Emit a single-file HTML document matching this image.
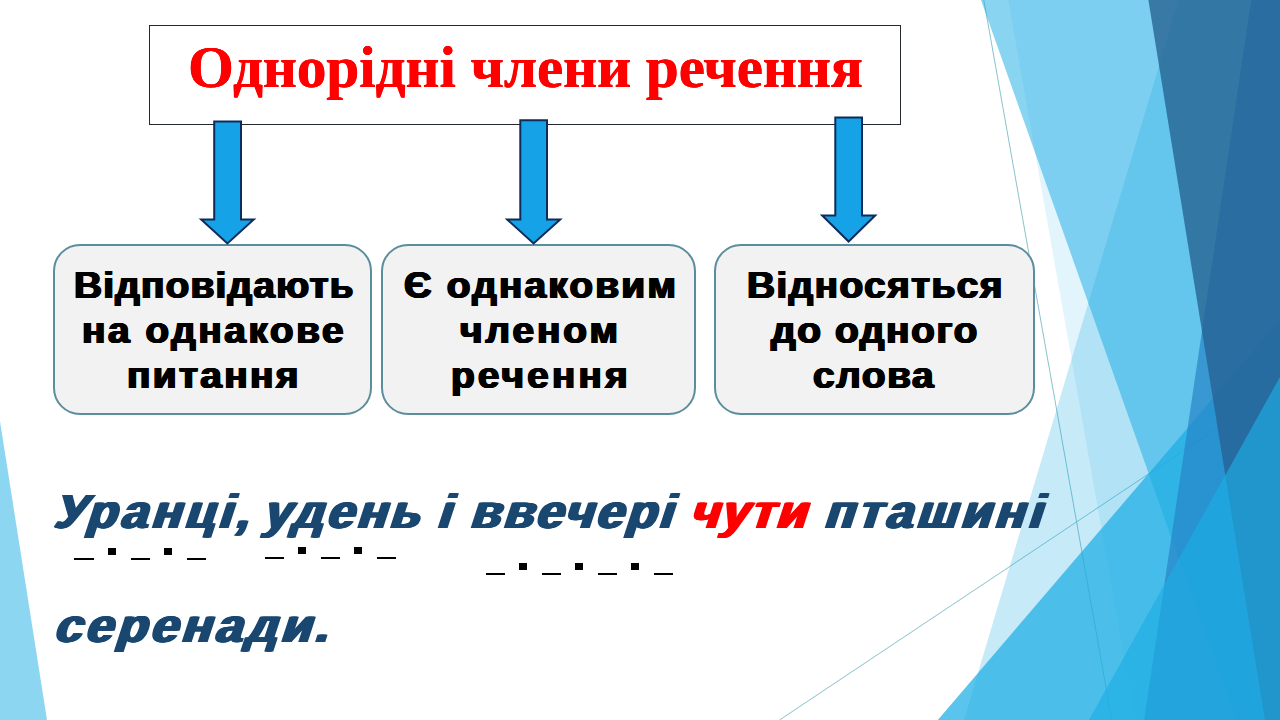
<!DOCTYPE html>
<html><head><meta charset="utf-8">
<style>
html,body{margin:0;padding:0;}
body{width:1280px;height:720px;overflow:hidden;position:relative;background:#fff;font-family:"Liberation Sans",sans-serif;}
svg.bg{position:absolute;left:0;top:0;}
.title{position:absolute;left:149px;top:25px;width:752px;height:99.5px;border:1.3px solid #23292f;background:#fff;box-sizing:border-box;}
.ttext{position:absolute;white-space:nowrap;font-family:"Liberation Serif",serif;font-weight:bold;color:#f00;font-size:59px;line-height:normal;text-shadow:0.35px 0 0 #f00,-0.35px 0 0 #f00;}
.box{position:absolute;top:244.2px;height:170.6px;border:2px solid #5a8e9d;border-radius:27px;background:#f2f2f2;box-sizing:border-box;}
.bt{position:absolute;white-space:nowrap;font-weight:bold;color:#000;font-size:37.5px;line-height:normal;text-shadow:0.9px 0 0 #000,-0.9px 0 0 #000,0.45px 0 0 #000,-0.45px 0 0 #000;transform:scaleX(1.035);transform-origin:0 0;}
.sw{position:absolute;white-space:nowrap;font-weight:bold;transform:skewX(-18.0deg) scaleX(1.02);transform-origin:0 43.4px;color:#1a4770;text-shadow:1.6px 0 0 currentColor,-1.6px 0 0 currentColor,0.8px 0 0 currentColor,-0.8px 0 0 currentColor;font-size:48.0px;line-height:normal;}
.dd{position:absolute;background:#000;}
</style></head><body>
<svg class="bg" width="1280" height="720" viewBox="0 0 1280 720">
  <line x1="983.8" y1="0" x2="1111.8" y2="720" stroke="#6ab3c0" stroke-opacity="0.8" stroke-width="1"/>
  <line x1="1279.7" y1="386.5" x2="779.5" y2="720" stroke="#6ab3c0" stroke-opacity="0.8" stroke-width="1"/>
  <polygon points="1178.7,0 1280,0 1280,720 963.9,720" fill="#1CADE4" fill-opacity="0.25"/>
  <polygon points="1008.2,0 1280,0 1280,720 1135.2,720" fill="#1CADE4" fill-opacity="0.12"/>
  <polygon points="1280,320 1280,720 937.8,720" fill="#1CADE4" fill-opacity="0.72"/>
  <polygon points="981,0 1280,0 1280,720 1236,720" fill="#1CADE4" fill-opacity="0.52"/>
  <polygon points="1251.2,0 1280,0 1280,720 1144.2,720" fill="#2683C6" fill-opacity="0.7"/>
  <polygon points="1148.4,0 1280,0 1280,720 1264.9,720" fill="#276394" fill-opacity="0.8"/>
  <polygon points="1280,376.9 1280,720 1088.9,720" fill="#1CADE4" fill-opacity="0.64"/>
  <polygon points="0,421.3 0,720 47,720" fill="#1CADE4" fill-opacity="0.5"/>
</svg>
<div class="title"></div>
<div class="ttext" style="left:188px;top:33px;">Однорідні члени речення</div>
<div class="box" style="left:53px;width:319px;"></div>
<div class="box" style="left:381px;width:315px;"></div>
<div class="box" style="left:714px;width:321px;"></div>
<svg class="bg" width="1280" height="720" viewBox="0 0 1280 720">
  <g fill="#16a2e6" stroke="#0e2c5a" stroke-width="2" stroke-linejoin="miter">
    <polygon points="214.2,121.5 241,121.5 241,219.5 253.8,219.5 227.4,243.5 201.2,219.5 214.2,219.5"/>
    <polygon points="520.3,120.3 547,120.3 547,219.5 560.2,219.5 533.6,243.5 507.2,219.5 520.3,219.5"/>
    <polygon points="835.3,117.6 862,117.6 862,215.5 875.2,215.5 848.6,241.5 822.2,215.5 835.3,215.5"/>
  </g>
</svg>
<div class="bt" style="left:73.50px;top:264.00px;letter-spacing:1.14px;">Відповідають</div>
<div class="bt" style="left:81.75px;top:309.00px;letter-spacing:2.45px;">на однакове</div>
<div class="bt" style="left:126.75px;top:353.50px;letter-spacing:2.25px;">питання</div>
<div class="bt" style="left:403.50px;top:264.00px;letter-spacing:2.10px;">Є однаковим</div>
<div class="bt" style="left:460.25px;top:309.00px;letter-spacing:2.80px;">членом</div>
<div class="bt" style="left:450.50px;top:353.50px;letter-spacing:3.00px;">речення</div>
<div class="bt" style="left:746.75px;top:264.00px;letter-spacing:1.35px;">Відносяться</div>
<div class="bt" style="left:771.00px;top:309.00px;letter-spacing:1.56px;">до одного</div>
<div class="bt" style="left:813.00px;top:353.50px;letter-spacing:1.50px;">слова</div>
<div class="sw" style="left:53.00px;top:484.00px;letter-spacing:3.67px;">Уранці,</div>
<div class="sw" style="left:262.00px;top:484.00px;letter-spacing:3.05px;">удень</div>
<div class="sw" style="left:436.40px;top:484.00px;letter-spacing:0.00px;">і</div>
<div class="sw" style="left:468.80px;top:484.00px;letter-spacing:2.87px;">ввечері</div>
<div class="sw" style="left:689.00px;top:484.00px;letter-spacing:1.80px;color:#ff0000;">чути</div>
<div class="sw" style="left:822.50px;top:484.00px;letter-spacing:3.67px;">пташині</div>
<div class="sw" style="left:52.50px;top:598.25px;letter-spacing:3.81px;">серенади.</div>
<div class="dd" style="left:74.4px;top:557.8px;width:19.3px;height:2.3px"></div>
<div class="dd" style="left:107.9px;top:547.9px;width:8px;height:7.2px"></div>
<div class="dd" style="left:130.5px;top:557.8px;width:19.3px;height:2.3px"></div>
<div class="dd" style="left:164.0px;top:547.9px;width:8px;height:7.2px"></div>
<div class="dd" style="left:186.6px;top:557.8px;width:19.3px;height:2.3px"></div>
<div class="dd" style="left:264.8px;top:557.0px;width:19.3px;height:2.3px"></div>
<div class="dd" style="left:298.3px;top:546.9px;width:8px;height:7.2px"></div>
<div class="dd" style="left:320.9px;top:557.0px;width:19.3px;height:2.3px"></div>
<div class="dd" style="left:354.4px;top:546.9px;width:8px;height:7.2px"></div>
<div class="dd" style="left:377.0px;top:557.0px;width:19.3px;height:2.3px"></div>
<div class="dd" style="left:485.6px;top:572.7px;width:19.3px;height:2.3px"></div>
<div class="dd" style="left:519.1px;top:562.8px;width:8px;height:7.2px"></div>
<div class="dd" style="left:541.7px;top:572.7px;width:19.3px;height:2.3px"></div>
<div class="dd" style="left:575.2px;top:562.8px;width:8px;height:7.2px"></div>
<div class="dd" style="left:597.8px;top:572.7px;width:19.3px;height:2.3px"></div>
<div class="dd" style="left:631.3px;top:562.8px;width:8px;height:7.2px"></div>
<div class="dd" style="left:653.9px;top:572.7px;width:19.3px;height:2.3px"></div>
</body></html>
